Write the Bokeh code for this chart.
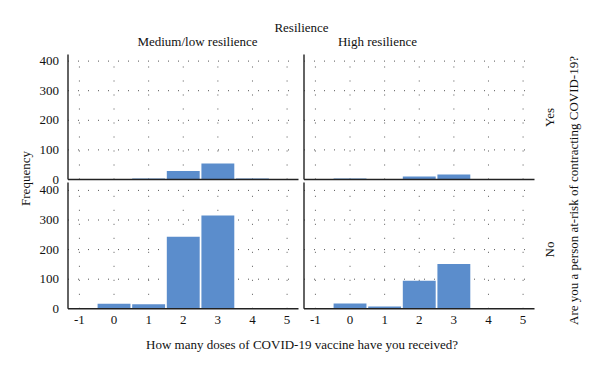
import math
from bokeh.plotting import figure
from bokeh.models import (Range1d, LinearAxis, FixedTicker, CustomJSTickFormatter,
                          Label, ColumnDataSource)
from bokeh.embed import file_html
from bokeh.resources import INLINE

# ---------------- data ----------------
doses = [-1, 0, 1, 2, 3, 4, 5]
x_ticks = [-1, 0, 1, 2, 3, 4, 5]
y_ticks = [0, 100, 200, 300, 400]
grid_y = [100, 200, 300, 400]

# Frequencies per number of doses (-1..5)
yes_medium_low = [0, 0, 3, 29, 54, 3, 0]
yes_high = [0, 3, 0, 10, 17, 2, 0]
no_medium_low = [0, 17, 15, 243, 315, 0, 0]
no_high = [0, 18, 8, 95, 151, 0, 0]

col_labels = ["Medium/low resilience", "High resilience"]
row_labels = ["Yes", "No"]
col_title = "Resilience"
row_title = "Are you a person at-risk of contracting COVID-19?"
x_title = "How many doses of COVID-19 vaccine have you received?"
y_title = "Frequency"

panels = {(0, 0): yes_medium_low, (0, 1): yes_high,
          (1, 0): no_medium_low, (1, 1): no_high}

# ---------------- layout (pixels) ----------------
W, H = 584, 357
PX = [(67.5, 298), (303.5, 535)]            # panel columns (left, right)
PY = [(54, 179), (182, 308.3)]              # panel rows (top, bottom)
XLO, XHI = -1.33, 5.33
s_x = (PX[0][1] - PX[0][0]) / (XHI - XLO)
s_y = 0.296

x_start = XLO - PX[0][0] / s_x
x_end = x_start + W / s_x
XOFF = [0.0, (PX[1][0] - PX[0][0]) / s_x]
y_start = -(H - PY[1][1]) / s_y
y_end = y_start + H / s_y
YOFF = [(PY[1][1] - PY[0][1]) / s_y, 0.0]
PTOP = [YOFF[r] + (PY[r][1] - PY[r][0]) / s_y for r in (0, 1)]


def dx(px):
    return x_start + px / s_x


def dy(py):
    return y_start + (H - py) / s_y


FONT = "Liberation Serif"
TXT = "#111111"
BAR = "#5b8dcc"

p = figure(width=W, height=H, x_range=Range1d(x_start, x_end),
           y_range=Range1d(y_start, y_end), output_backend="svg",
           toolbar_location=None, x_axis_location=None, y_axis_location=None,
           min_border_left=0, min_border_right=0,
           min_border_top=0, min_border_bottom=0)
p.outline_line_color = None
p.grid.grid_line_color = None
p.background_fill_color = "white"
p.border_fill_color = "white"

# ---------------- axes (tick labels) ----------------
xaxis = LinearAxis(
    fixed_location=0,
    ticker=FixedTicker(ticks=[t + XOFF[c] for c in (0, 1) for t in x_ticks]),
    formatter=CustomJSTickFormatter(
        code=f"return String(Math.round(tick > {XHI + 0.1} ? tick - {XOFF[1]} : tick));"),
    axis_line_color=None, major_tick_line_color=None, minor_tick_line_color=None,
    major_tick_out=0, major_tick_in=0, minor_tick_out=0, minor_tick_in=0,
    major_label_standoff=7, major_label_text_font=FONT,
    major_label_text_font_size="13px", major_label_text_color=TXT)
p.add_layout(xaxis, "below")

yaxis = LinearAxis(
    fixed_location=XLO,
    ticker=FixedTicker(ticks=[t + YOFF[r] for r in (0, 1) for t in y_ticks]),
    formatter=CustomJSTickFormatter(
        code=f"return String(Math.round(tick > {PTOP[1] + 2} ? tick - {YOFF[0]} : tick));"),
    axis_line_color=None, major_tick_line_color=None, minor_tick_line_color=None,
    major_tick_out=0, major_tick_in=0, minor_tick_out=0, minor_tick_in=0,
    major_label_standoff=9, major_label_text_font=FONT,
    major_label_text_font_size="13px", major_label_text_color=TXT)
p.add_layout(yaxis, "left")

# ---------------- grid lines (dotted) ----------------
vx0, vx1, vy0, vy1 = [], [], [], []
hx0, hx1, hy = [], [], []
for (r, c) in panels:
    for t in x_ticks:
        vx0.append(t + XOFF[c]); vx1.append(t + XOFF[c])
        vy0.append(YOFF[r]); vy1.append(YOFF[r] + 410)
    for g in grid_y:
        hx0.append(XLO + XOFF[c]); hx1.append(XHI + XOFF[c] - 0.12)
        hy.append(g + YOFF[r])
p.segment(x0=vx0, y0=vy0, x1=vx1, y1=vy1, line_color="#555555",
          line_width=1, line_dash="1 13")
p.segment(x0=hx0, y0=hy, x1=hx1, y1=hy, line_color="#555555",
          line_width=1, line_dash="1 9")

# ---------------- bars ----------------
bx, btop, bbot = [], [], []
for (r, c), vals in panels.items():
    for d, v in zip(doses, vals):
        bx.append(d + XOFF[c]); bbot.append(YOFF[r]); btop.append(v + YOFF[r])
src = ColumnDataSource(dict(x=bx, top=btop, bottom=bbot))
p.vbar(x="x", top="top", bottom="bottom", width=0.95, source=src,
       fill_color=BAR, line_color=None)

# ---------------- panel axis lines ----------------
ax0, ax1, ay0, ay1 = [], [], [], []
for (r, c) in panels:
    ax0.append(XLO + XOFF[c]); ax1.append(XLO + XOFF[c])
    ay0.append(YOFF[r]); ay1.append(PTOP[r])
    ax0.append(XLO + XOFF[c]); ax1.append(XHI + XOFF[c])
    ay0.append(YOFF[r]); ay1.append(YOFF[r])
p.segment(x0=ax0, y0=ay0, x1=ax1, y1=ay1, line_color="#222222", line_width=1.4)


# ---------------- titles / facet labels ----------------
def lab(text, px, py, angle=0.0):
    p.add_layout(Label(x=dx(px), y=dy(py), text=text, text_align="center",
                       text_baseline="middle", angle=angle, text_font=FONT,
                       text_font_size="13px", text_color=TXT))


lab(col_title, 301, 26.5)
lab(col_labels[0], 197, 40.5)
lab(col_labels[1], 377, 40.5)
lab(row_labels[0], 549, 117, math.pi / 2)
lab(row_labels[1], 549, 249, math.pi / 2)
lab(row_title, 573, 190, math.pi / 2)
lab(y_title, 25, 178, math.pi / 2)
lab(x_title, 301.5, 344)

open("out.html", "w").write(file_html(p, INLINE))
